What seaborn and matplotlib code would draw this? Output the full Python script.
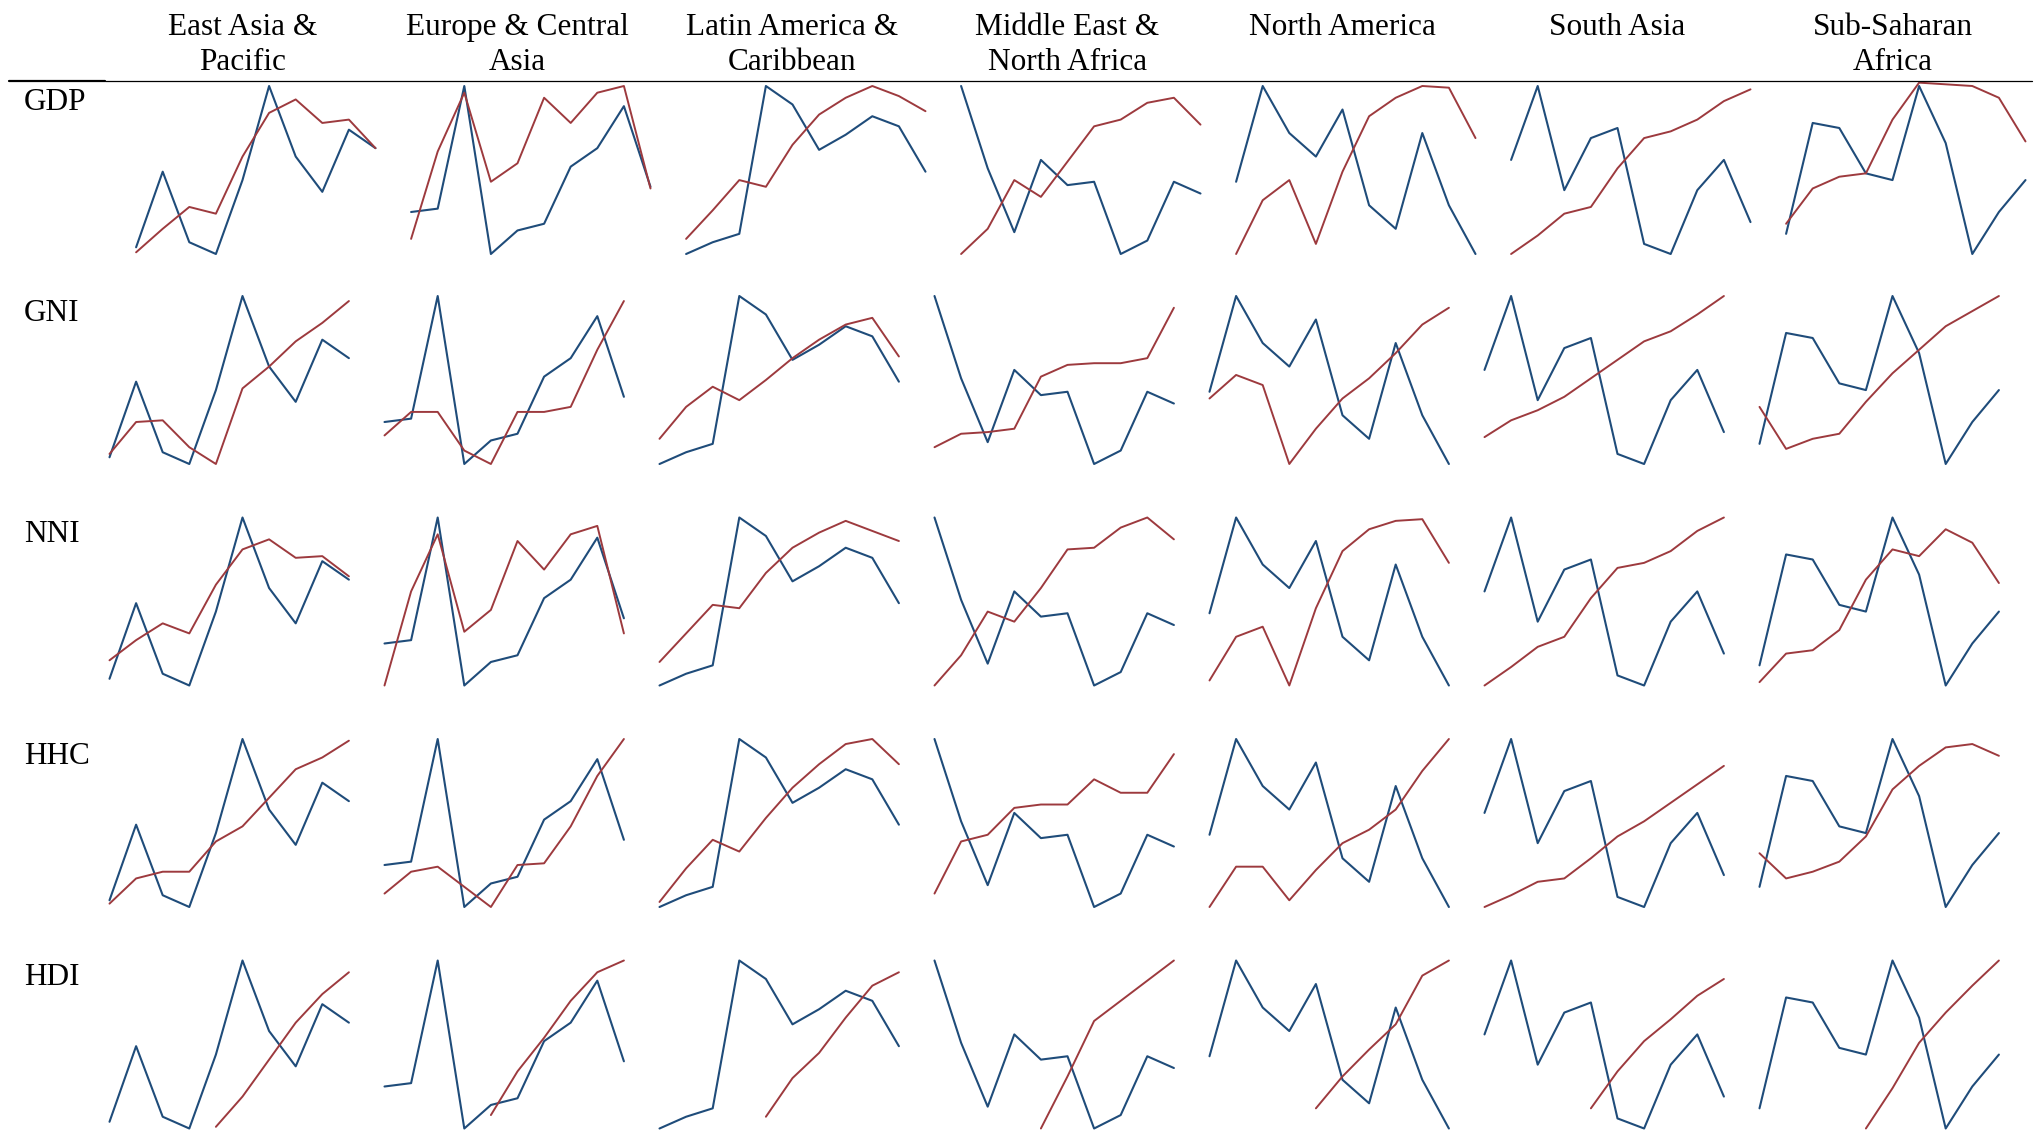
import numpy as np
import pandas as pd
import matplotlib
matplotlib.use("Agg")
import matplotlib.pyplot as plt
from matplotlib.lines import Line2D
import seaborn as sns

sns.set_theme(style="white")
plt.rcParams["font.family"] = ["Liberation Serif", "DejaVu Serif"]

# ---------------------------------------------------------------- data
regions = ["East Asia &\nPacific", "Europe & Central\nAsia", "Latin America &\nCaribbean",
           "Middle East &\nNorth Africa", "North America", "South Asia", "Sub-Saharan\nAfrica"]
indicators = ["GDP", "GNI", "NNI", "HHC", "HDI"]
periods = np.arange(11)

# reference series (same in every row of a region), scaled 0-100
benchmark = [
    [4, 49, 7, 0, 44, 100, 58, 37, 74, 63],
    [25, 27, 100, 0, 14, 18, 52, 63, 88, 40],
    [0, 7, 12, 100, 89, 62, 71, 82, 76, 49],
    [100, 51, 13, 56, 41, 43, 0, 8, 43, 36],
    [43, 100, 72, 58, 86, 29, 15, 72, 29, 0],
    [56, 100, 38, 69, 75, 6, 0, 38, 56, 19],
    [12, 78, 75, 48, 44, 100, 66, 0, 25, 44],
]

gdp = [
    [1, 15, 28, 24, 58, 84, 92, 78, 80, 63],
    [9, 61, 96, 43, 54, 93, 78, 96, 100, 39],
    [9, 26, 44, 40, 65, 83, 93, 100, 94, 85],
    [0, 15, 44, 34, 55, 76, 80, 90, 93, 77],
    [0, 32, 44, 6, 49, 82, 93, 100, 99, 69],
    [0, 11, 24, 28, 51, 69, 73, 80, 91, 98],
    [18, 39, 46, 48, 80, 102, 101, 100, 93, 67],
]
gni = [
    [6, 25, 26, 10, 0, 45, 58, 73, 84, 97],
    [17, 31, 31, 8, 0, 31, 31, 34, 68, 97],
    [15, 34, 46, 38, 50, 63, 74, 83, 87, 64],
    [10, 18, 19, 21, 52, 59, 60, 60, 63, 93],
    [39, 53, 47, 0, 21, 39, 51, 66, 83, 93],
    [16, 26, 32, 40, 51, 62, 73, 79, 89, 100],
    [34, 9, 15, 18, 37, 54, 68, 82, 91, 100],
]
nni = [
    [15, 27, 37, 31, 60, 81, 87, 76, 77, 65],
    [0, 56, 90, 32, 45, 86, 69, 90, 95, 31],
    [14, 31, 48, 46, 67, 82, 91, 98, 92, 86],
    [0, 18, 44, 38, 58, 81, 82, 94, 100, 87],
    [3, 29, 35, 0, 46, 80, 93, 98, 99, 73],
    [0, 11, 23, 29, 52, 70, 73, 80, 92, 100],
    [2, 19, 21, 33, 63, 81, 77, 93, 85, 61],
]
hhc = [
    [2, 17, 21, 21, 39, 48, 65, 82, 89, 99],
    [8, 21, 24, 12, 0, 25, 26, 48, 78, 100],
    [3, 23, 40, 33, 53, 71, 85, 97, 100, 85],
    [8, 39, 43, 59, 61, 61, 76, 68, 68, 91],
    [0, 24, 24, 4, 22, 38, 46, 58, 81, 100],
    [0, 7, 15, 17, 29, 42, 51, 62, 73, 84],
    [32, 17, 21, 27, 42, 70, 84, 95, 97, 90],
]
nan = np.nan
hdi = [
    [nan, nan, nan, nan, 1, 19, 41, 63, 80, 93],
    [nan, nan, nan, nan, 8, 34, 54, 76, 93, 100],
    [nan, nan, nan, nan, 7, 30, 45, 66, 85, 93],
    [nan, nan, nan, nan, 0, 31, 64, 76, 88, 100],
    [nan, nan, nan, nan, 12, 31, 47, 62, 91, 100],
    [nan, nan, nan, nan, 12, 34, 52, 65, 79, 89],
    [nan, nan, nan, nan, 0, 24, 51, 69, 85, 100],
]
indicator_values = [gdp, gni, nni, hhc, hdi]
# GDP is observed one period later than the other measures
first_period = [1, 0, 0, 0, 0]

# ---------------------------------------------------------------- layout
W, H = 2043, 1134
BLUE = "#1f4c7a"
RED = "#9d3a3e"

fig = plt.figure(figsize=(W / 100, H / 100), dpi=100)
fig.patch.set_facecolor("white")


def px_rect(left, top, width, height):
    return [left / W, 1 - (top + height) / H, width / W, height / H]


col_left = [109.5 + 275 * c for c in range(len(regions))]
row_top = [86, 296, 517.5, 739, 960.5]
panel_w, panel_h = 266, 168

for r, name in enumerate(indicators):
    for c in range(len(regions)):
        ax = fig.add_axes(px_rect(col_left[c], row_top[r], panel_w, panel_h))
        x = periods[first_period[r]:first_period[r] + 10]
        df = pd.DataFrame({"period": x,
                           "benchmark": benchmark[c],
                           "value": indicator_values[r][c]})
        sns.lineplot(data=df, x="period", y="benchmark", ax=ax, color=BLUE,
                     linewidth=1.5, clip_on=False, legend=False)
        sns.lineplot(data=df.dropna(), x="period", y="value", ax=ax, color=RED,
                     linewidth=1.4, clip_on=False, legend=False)
        ax.set_xlim(0, 10)
        ax.set_ylim(0, 100)
        ax.axis("off")
    fig.text(24 / W, 1 - (row_top[r] + 24.5) / H, name, fontsize=22.5,
             ha="left", va="baseline", color="black")

# column headings, one text per line
for c, label in enumerate(regions):
    cx = col_left[c] + 133
    for k, line in enumerate(label.split("\n")):
        fig.text(cx / W, 1 - (35 + 35.5 * k) / H, line, fontsize=22.5,
                 ha="center", va="baseline", color="black")

# rule under the headings
fig.add_artist(Line2D([9 / W, 105 / W], [1 - 80.7 / H] * 2, color="black",
                      linewidth=1.6, transform=fig.transFigure))
fig.add_artist(Line2D([105 / W, 2032 / W], [1 - 80.7 / H] * 2, color="black",
                      linewidth=0.9, transform=fig.transFigure))

fig.savefig("out.png", dpi=100, facecolor="white")
